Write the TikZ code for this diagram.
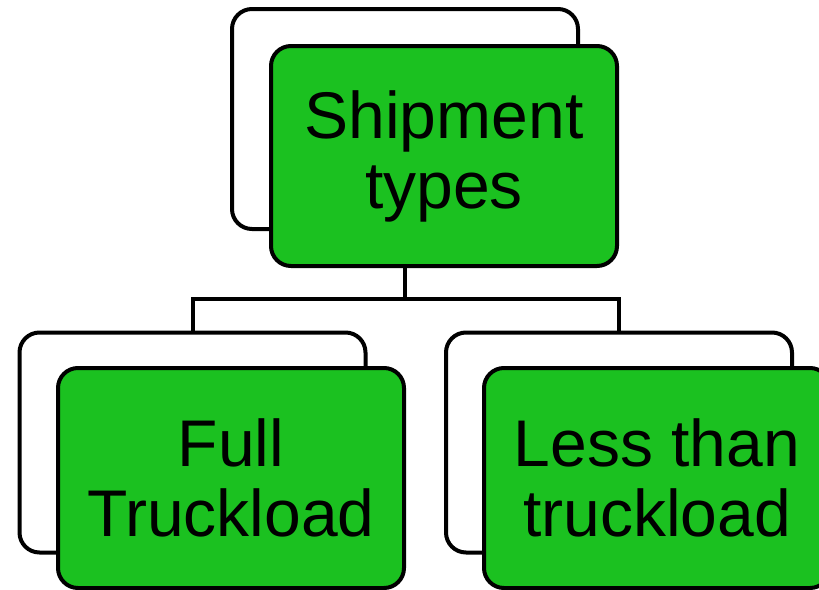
\documentclass[tikz,border=0pt]{standalone}
\usepackage{fontspec}
\setmainfont{Liberation Sans}
\definecolor{boxgreen}{RGB}{27,193,32}
\begin{document}
\begin{tikzpicture}[x=1pt,y=-1pt,
  back/.style={draw=black, line width=4pt, fill=white, rounded corners=20pt,
    minimum width=346pt, minimum height=220pt, inner sep=0pt},
  front/.style={draw=black, line width=4pt, fill=boxgreen, rounded corners=20pt,
    minimum width=346pt, minimum height=220pt, inner sep=0pt, align=center,
    font=\fontsize{66}{70}\selectfont},
  link/.style={draw=black, line width=4pt}]
\useasboundingbox (0,0) rectangle (819,589);
\clip (0,0) rectangle (819,589);
% back boxes
\node[back] (topback) at (405,119) {};
\node[back] (leftback) at (192.5,442.5) {};
\node[back] (rightback) at (619,442.5) {};
% connectors
\coordinate (bus) at (405,299);
\draw[link] (topback.south) -- (bus);
\draw[link] (leftback.north) |- (bus) -| (rightback.north);
% front boxes
\node[front] (top) at (444,156) {Shipment\\types};
\node[front] (left) at (231,478) {Full\\Truckload};
\node[front] (right) at (657,478) {Less than\\truckload};
\end{tikzpicture}
\end{document}
